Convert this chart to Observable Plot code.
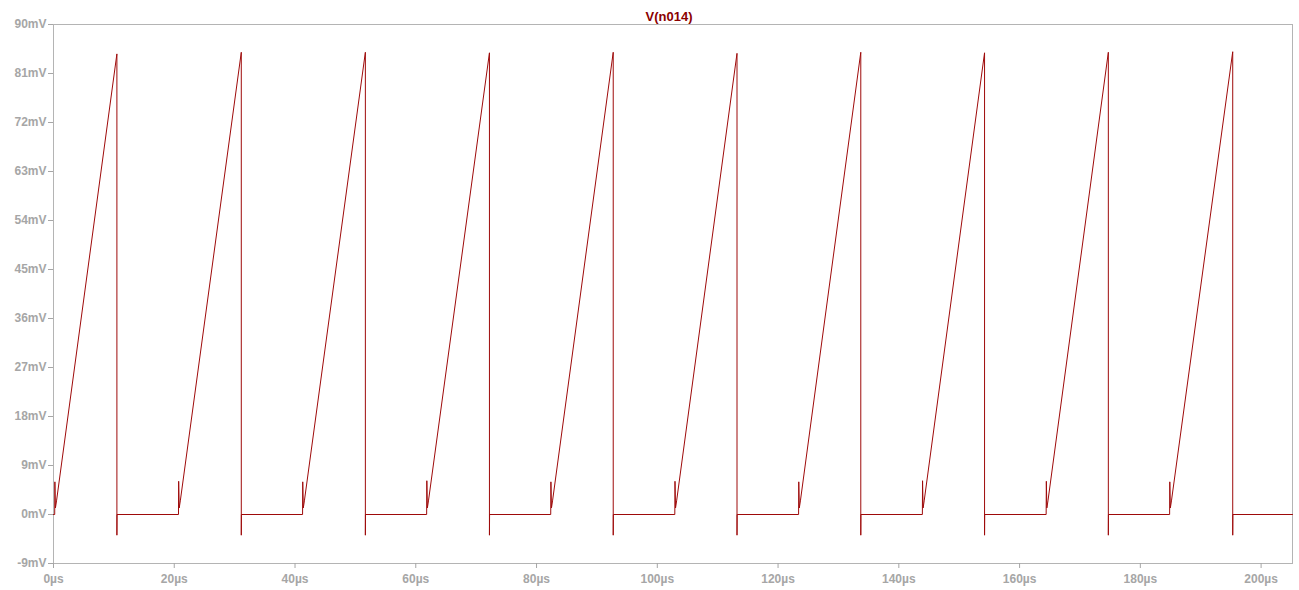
<!DOCTYPE html>
<html>
<head>
<meta charset="utf-8">
<script src="https://cdn.jsdelivr.net/npm/d3@7"></script>
<script src="https://cdn.jsdelivr.net/npm/@observablehq/plot@0.6"></script>
<style>
  html, body { margin: 0; padding: 0; background: #fff; }
</style>
</head>
<body>
<div id="chart"></div>
<script>
// ---- Data (time in µs, voltage in mV) ----
const title = "V(n014)";
// start of each ramp (µs)
const rampStart = [0.2, 20.7, 41.25, 61.8, 82.35, 102.9, 123.4, 143.9, 164.4, 184.85];
// reset instant at top of each ramp (µs)
const resetTime = [10.5, 31.1, 51.65, 72.2, 92.7, 113.2, 133.7, 154.2, 174.7, 195.3];
// peak value reached before each reset (mV)
const peakMV = [84.6, 84.9, 84.9, 84.8, 84.9, 84.7, 84.9, 84.8, 84.9, 85.0];
// small spike at start of each ramp (mV)
const spikeMV = [6.0, 6.1, 6.0, 6.2, 6.0, 6.1, 6.0, 6.2, 6.1, 6.0];
// undershoot at each reset (mV)
const undershootMV = [-3.8, -3.8, -3.8, -3.8, -3.8, -3.8, -3.8, -3.8, -3.8, -3.8];
const endTime = 205.2;
const yTicks = [-9, 0, 9, 18, 27, 36, 45, 54, 63, 72, 81, 90];
const xTicks = [0, 20, 40, 60, 80, 100, 120, 140, 160, 180, 200];

// Build the waveform vertices from the read key points
const wave = [{t: 0, v: 0}];
for (let i = 0; i < rampStart.length; i++) {
  const ts = rampStart[i], tr = resetTime[i];
  wave.push({t: ts, v: 0});
  wave.push({t: ts + 0.03, v: spikeMV[i]});
  wave.push({t: ts + 0.12, v: 1.2});
  wave.push({t: ts + 0.3, v: 2.5});
  wave.push({t: tr, v: peakMV[i]});
  wave.push({t: tr, v: undershootMV[i]});
  wave.push({t: tr + 0.02, v: 0});
}
wave.push({t: endTime, v: 0});

const chart = Plot.plot({
  width: 1299,
  height: 590,
  marginLeft: 53,
  marginRight: 7,
  marginTop: 24,
  marginBottom: 27,
  style: {
    fontFamily: "'Liberation Sans', Arial, sans-serif",
    fontWeight: "bold",
    fontSize: "12px",
    color: "#a6a6a6",
    background: "#ffffff"
  },
  x: {domain: [0, endTime]},
  y: {domain: [-9, 90]},
  marks: [
    Plot.frame({stroke: "#b4b4b4"}),
    Plot.axisY({ticks: yTicks, tickFormat: d => d + "mV", tickSize: 5, tickPadding: 2, label: null}),
    Plot.axisX({ticks: xTicks, tickFormat: d => d + "µs", tickSize: 5, tickPadding: 6, label: null}),
    Plot.line(wave, {x: "t", y: "v", stroke: "#9e0a0a", strokeWidth: 1, curve: "linear"}),
    Plot.text([title], {frameAnchor: "top", lineAnchor: "bottom", dy: -4, dx: -4, text: d => d,
      fill: "#8b0000", fontSize: 13, fontWeight: "bold"})
  ]
});
document.getElementById("chart").append(chart);
</script>
</body>
</html>
